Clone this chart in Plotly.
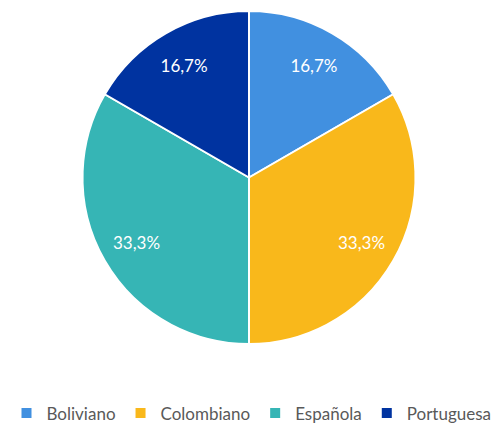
import plotly.graph_objects as go

categories = ["Boliviano", "Colombiano", "Española", "Portuguesa"]
values = [1, 2, 2, 1]
colors = ["#4190E0", "#F9B81B", "#36B5B5", "#0033A0"]

dom = dict(x=[82/503, 416/503], y=[1-344/423, 1-11/423])

fig = go.Figure()
fig.add_trace(go.Pie(
    labels=categories,
    values=values,
    sort=False,
    direction="clockwise",
    rotation=0,
    marker=dict(colors=colors, line=dict(color="white", width=2)),
    textinfo="none",
    domain=dom,
    hoverinfo="label+percent",
))
# transparent ring carrying the percentage labels at ~0.78 R
fig.add_trace(go.Pie(
    labels=categories,
    values=values,
    sort=False,
    direction="clockwise",
    rotation=0,
    hole=0.56,
    marker=dict(colors=["rgba(0,0,0,0)"] * len(categories), line=dict(width=0)),
    texttemplate="%{percent:.1%}",
    textposition="inside",
    insidetextorientation="horizontal",
    textfont=dict(color="white", size=17, family="Lato"),
    domain=dom,
    showlegend=False,
    hoverinfo="skip",
))

fig.update_layout(
    width=503, height=423,
    margin=dict(l=0, r=0, t=0, b=0, autoexpand=False),
    separators=",.",
    paper_bgcolor="white",
    plot_bgcolor="white",
    showlegend=True,
    legend=dict(
        orientation="h",
        x=0.5, xanchor="center",
        yref="container",
        y=9.5 / 423, yanchor="middle",
        font=dict(size=17, color="#595959", family="Lato"),
        itemwidth=30,
        traceorder="normal",
    ),
)

fig.write_html("out.html", config={"displayModeBar": False},
               post_script="document.body.style.margin='0';")
